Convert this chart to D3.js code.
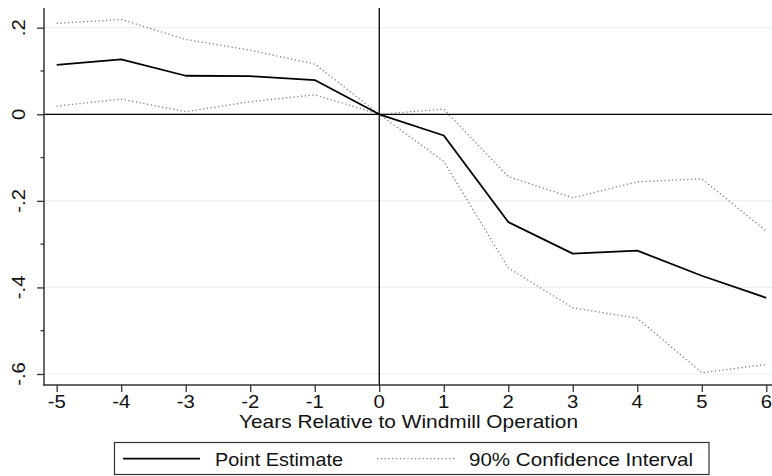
<!DOCTYPE html>
<html><head><meta charset="utf-8">
<script src="https://cdn.jsdelivr.net/npm/d3@7"></script>
<style>body{margin:0;background:#fff}svg{display:block}</style>
</head><body>
<svg id="c" width="772" height="476"></svg>
<script>
const years = [-5,-4,-3,-2,-1,0,1,2,3,4,5,6];
const pointEstimate = [0.114,0.127,0.089,0.088,0.079,0,-0.049,-0.249,-0.322,-0.315,-0.373,-0.424];
const upperCI = [0.210,0.219,0.173,0.148,0.116,0,0.012,-0.144,-0.193,-0.156,-0.149,-0.270];
const lowerCI = [0.019,0.035,0.006,0.029,0.045,0,-0.109,-0.355,-0.447,-0.471,-0.597,-0.578];
const yMajor = [-0.6,-0.4,-0.2,0,0.2];
const yMajorLabels = ["-.6","-.4","-.2","0",".2"];
const yMinor = [-0.5,-0.3,-0.1,0.1];
const xLabel = "Years Relative to Windmill Operation";
const legendLabels = ["Point Estimate","90% Confidence Interval"];

const svg = d3.select("#c");
const font = "Liberation Sans, Arial, Helvetica, sans-serif";
const fs = 18.5;
const x = d3.scaleLinear().domain([-5,6]).range([56.7,766.3]);
const y = d3.scaleLinear().domain([-0.6,0.2]).range([374,27.7]);
const plotTop = 8, plotBottom = 385, axisX = 44, plotRight = 772;

function label(px, py, txt, anchor, len, rot){
  const g = svg.append("g").attr("transform",`translate(${px},${py})${rot?` rotate(${rot})`:""}`);
  const t = g.append("text").attr("x",0).attr("y",0).attr("text-anchor",anchor||"start")
    .attr("font-family",font).attr("font-size",fs).attr("fill","#111").text(txt);
  if(len){ t.attr("textLength",len).attr("lengthAdjust","spacingAndGlyphs"); }
  else { t.attr("transform","scale(1.1,1)"); }
  return t;
}

// gridlines
svg.append("g").selectAll("line").data(yMajor).join("line")
  .attr("x1",axisX).attr("x2",plotRight)
  .attr("y1",d=>y(d)).attr("y2",d=>y(d))
  .attr("stroke","#e8f0f1").attr("stroke-width",1.2);

// reference lines
svg.append("line").attr("x1",axisX).attr("x2",plotRight).attr("y1",y(0)).attr("y2",y(0))
  .attr("stroke","#000").attr("stroke-width",1.3);
svg.append("line").attr("x1",x(0)).attr("x2",x(0)).attr("y1",plotTop).attr("y2",plotBottom)
  .attr("stroke","#000").attr("stroke-width",1.3);

const line = d3.line().x((d,i)=>x(years[i])).y(d=>y(d));
[upperCI, lowerCI].forEach(arr=>{
  svg.append("path").attr("d",line(arr)).attr("fill","none")
    .attr("stroke","#777").attr("stroke-width",1.3).attr("stroke-dasharray","1.2,2.6");
});
svg.append("path").attr("d",line(pointEstimate)).attr("fill","none")
  .attr("stroke","#000").attr("stroke-width",1.8).attr("stroke-linejoin","round");

// y axis
const yAxis = d3.axisLeft(y).tickValues(yMajor).tickSize(7).tickFormat("");
const gy = svg.append("g").attr("transform",`translate(${axisX},0)`).call(yAxis);
gy.select(".domain").remove();
gy.selectAll(".tick line").attr("stroke","#333").attr("stroke-width",1.3);
yMajor.forEach((v,i)=>label(25, y(v), yMajorLabels[i], "middle", null, -90));
svg.append("g").selectAll("line").data(yMinor).join("line")
  .attr("x1",axisX-3.5).attr("x2",axisX).attr("y1",d=>y(d)).attr("y2",d=>y(d))
  .attr("stroke","#333").attr("stroke-width",1.3);
svg.append("line").attr("x1",axisX).attr("x2",axisX).attr("y1",plotTop).attr("y2",plotBottom+0.5)
  .attr("stroke","#333").attr("stroke-width",1.5);

// x axis
const xAxis = d3.axisBottom(x).tickValues(years).tickSize(7).tickFormat("");
const gx = svg.append("g").attr("transform",`translate(0,${plotBottom})`).call(xAxis);
gx.select(".domain").remove();
gx.selectAll(".tick line").attr("stroke","#333").attr("stroke-width",1.3);
years.forEach(v=>label(x(v), 408.3, v<0?"-"+Math.abs(v):String(v), "middle"));
svg.append("line").attr("x1",axisX-0.75).attr("x2",plotRight).attr("y1",plotBottom).attr("y2",plotBottom)
  .attr("stroke","#333").attr("stroke-width",1.5);

label(239, 427.7, xLabel, "start", 339);

// legend
const lg = svg.append("g");
lg.append("rect").attr("x",114.5).attr("y",442.5).attr("width",594.5).attr("height",32)
  .attr("fill","#fff").attr("stroke","#333").attr("stroke-width",1.2);
lg.append("line").attr("x1",123).attr("x2",200).attr("y1",458.7).attr("y2",458.7)
  .attr("stroke","#000").attr("stroke-width",1.8);
label(215, 465.7, legendLabels[0], "start", 128);
lg.append("line").attr("x1",377).attr("x2",456).attr("y1",458.7).attr("y2",458.7)
  .attr("stroke","#777").attr("stroke-width",1.3).attr("stroke-dasharray","1.2,2.6");
label(469, 465.7, legendLabels[1], "start", 224);
</script>
</body></html>
